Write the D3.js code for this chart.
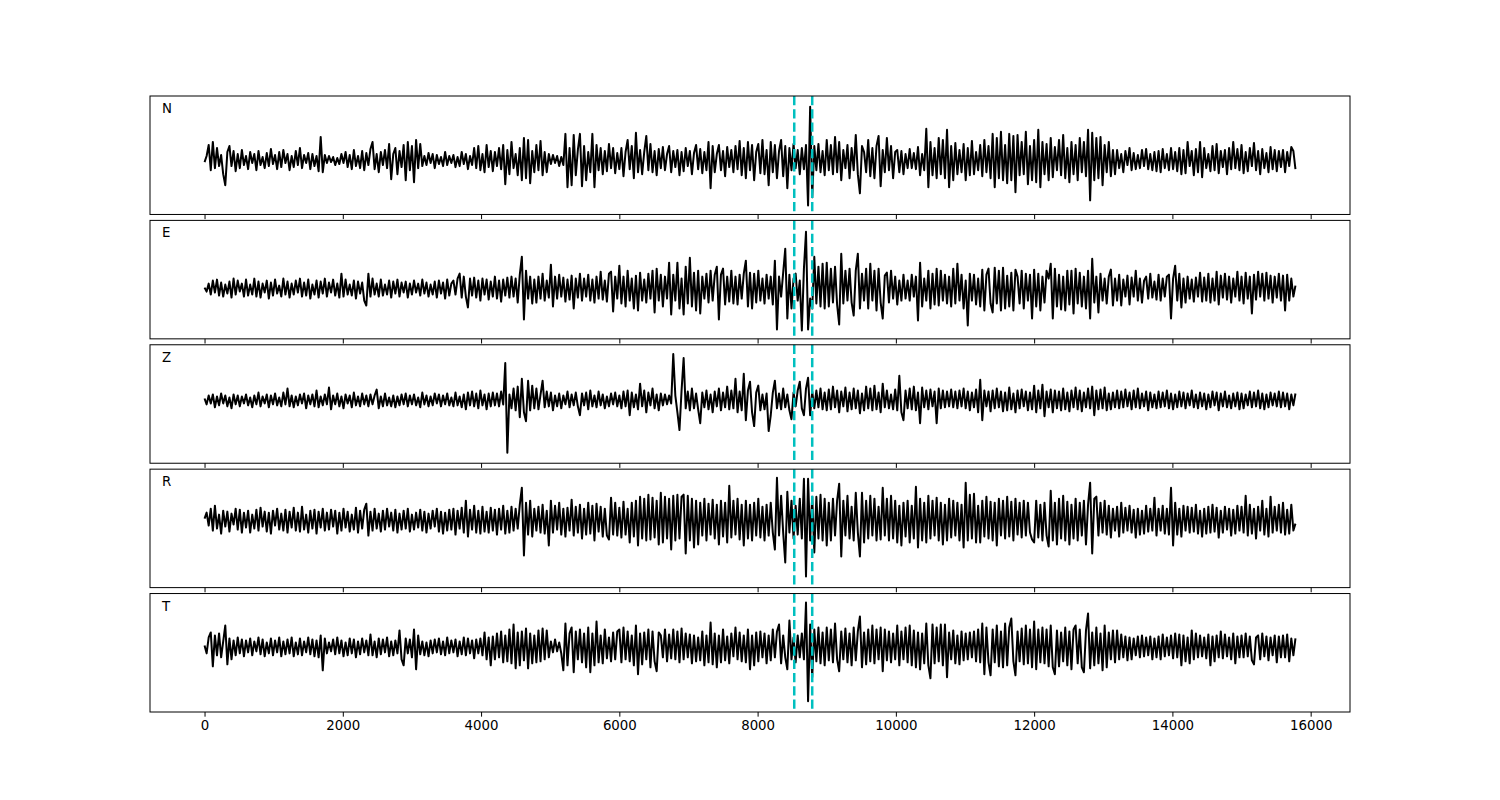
<!DOCTYPE html>
<html>
<head>
<meta charset="utf-8">
<script src="https://cdn.jsdelivr.net/npm/d3@7"></script>
<style>
  html, body { margin: 0; padding: 0; background: #ffffff; }
  svg { display: block; font-family: "DejaVu Sans", sans-serif; }
</style>
</head>
<body>
<svg id="chart" width="1500" height="800"></svg>
<script>
// ---- data (one sample every 30 time units, starting at 0) ----
const sampleInterval = 30;
const componentNames = ["N", "E", "Z", "R", "T"];
const pickTimes = [8530, 8790];
const xTickValues = [0, 2000, 4000, 6000, 8000, 10000, 12000, 14000, 16000];

const traceN = [
-2,4,15,-10,18,-8,12,-6,5,-14,-25,8,14,-6,9,-11,6,-8,10,-5,
4,-9,8,-3,6,-10,9,-5,3,-8,7,-6,11,-4,5,-9,8,-7,10,-3,
6,-10,4,-7,9,-5,12,-8,5,-3,7,-9,6,-6,4,-11,23,-12,5,-3,
4,-2,3,-5,2,-4,6,-3,8,-7,5,-9,10,-6,4,-8,9,-10,7,-5,
11,18,-9,6,-12,8,-5,10,-8,16,-19,6,12,-14,9,-7,15,-20,18,-10,
14,-22,20,-8,16,-6,4,-5,7,-3,6,-8,5,-4,3,-6,8,-5,4,-3,
5,-7,3,-6,8,-4,6,-9,4,-5,12,-8,14,-10,6,-12,15,-7,9,-11,
8,-6,12,-9,15,-24,10,-14,18,-8,6,-15,12,-20,22,-18,20,-23,9,-12,
15,-10,19,-15,8,-12,6,-4,5,-3,4,-6,3,-5,26,-27,12,-25,25,-15,
10,26,-26,14,-20,8,-12,26,-27,15,-10,12,-14,9,-11,16,-8,12,-13,7,
-9,12,-16,8,20,-9,14,-18,27,-12,10,-14,8,24,-10,16,-12,9,-15,11,
-8,13,-10,6,14,-12,9,-7,10,-15,8,-11,12,-6,9,-14,7,15,-9,11,
-13,8,-10,18,-28,14,-12,6,15,-10,9,-16,13,-7,10,-12,14,-9,19,-15,
12,-18,18,-10,15,-20,8,16,-13,20,-14,10,-25,18,-12,15,-18,9,20,-16,
14,-28,12,-10,16,-8,10,-14,12,-9,15,-45,53,-37,14,-10,16,-12,9,-15,
20,-10,15,-14,23,-12,18,-20,10,-8,15,-18,12,-10,25,-14,-33,14,8,-12,
20,-16,12,-18,14,24,-26,10,-12,22,-10,14,-18,8,10,-12,9,-14,6,-8,
11,-8,7,-9,13,-15,6,-10,31,-27,18,-15,12,-18,22,-14,20,-18,30,-27,
14,-20,17,-14,10,-12,16,-20,12,-15,19,-14,8,-10,15,-16,20,-12,14,-18,
26,-27,22,-18,28,-20,15,-23,26,-20,24,-32,25,-15,18,-14,28,-24,14,-20,
20,-22,30,-27,18,-14,16,-20,22,-17,13,-10,20,-15,25,-18,12,-22,18,-14,
15,-20,22,-12,18,-16,30,-40,27,-20,22,-18,23,-25,15,-12,18,-16,10,-14,
10,-8,6,-12,9,-5,12,-10,7,-9,5,-8,10,-6,11,-9,6,-10,8,-11,
9,-12,11,-8,6,-10,12,-9,8,-11,12,-14,10,-13,18,-6,9,-15,11,-12,
18,-17,12,-8,6,-11,14,-10,16,-13,9,-7,10,-14,12,-9,18,-8,11,-10,
15,-13,8,-11,12,-6,17,-10,9,-14,11,-8,7,-12,13,-9,10,-11,9,-7,
10,-12,8,-6,13,9,-9
];

const traceE = [
1,-3,5,-6,8,-4,9,-7,6,-8,4,-5,7,-9,10,-6,8,-3,5,-8,
9,-7,4,-6,10,-8,7,-9,5,-4,8,-10,6,-7,9,-5,3,-8,10,-6,
7,-9,5,-6,8,-4,10,-8,6,-7,9,-10,4,-6,8,-9,7,-5,10,-8,
6,-4,9,-7,5,-9,15,-8,9,-6,4,-7,8,-10,7,-5,6,-12,-17,15,
-8,10,-6,5,-8,9,-7,4,-6,8,-9,7,-5,9,-8,6,-4,7,-9,5,
-6,8,-4,5,-7,9,-5,6,-8,4,-6,7,-9,8,-5,6,-10,9,-7,5,
8,-6,10,15,-9,12,-8,-19,10,-7,11,-9,8,-12,10,-6,9,-11,7,-8,
12,-10,8,-13,9,-7,11,-9,12,-8,10,-14,14,32,-31,18,-10,12,-15,9,
-14,12,-10,15,-12,8,-9,24,-18,12,-10,14,-8,11,-13,9,-11,13,-20,10,
-9,15,-12,10,-8,14,-12,9,-14,12,-10,17,-11,8,-13,15,17,-23,12,-10,
23,-15,12,-18,18,-12,10,-20,13,-22,16,-12,9,-14,15,-10,18,-24,20,-12,
14,-18,12,-10,26,-26,14,-12,26,-20,10,-26,22,-15,31,-18,16,-22,18,-25,
12,-10,15,-14,18,-12,14,22,-31,14,20,-16,12,-13,18,-15,12,-16,14,-10,
15,28,-18,16,-20,15,-14,18,-12,10,-15,14,-10,12,-16,28,-41,12,-8,16,
40,-30,14,-20,10,15,-12,8,-42,20,57,-41,-10,-20,32,-15,22,-18,25,-20,
26,-18,20,-14,22,-16,-36,35,-15,18,-12,20,-14,-27,18,35,-20,15,-12,20,
-20,25,-12,18,-22,20,-14,-30,13,16,-14,18,-10,12,-16,8,-12,14,-10,8,
-12,14,-8,12,-32,26,-18,10,-12,18,-20,15,-16,20,-17,18,-12,14,-15,12,
-18,20,-15,25,-12,14,-20,8,-37,15,-12,14,-16,10,-18,19,-22,14,20,-15,
-24,21,-15,18,-22,21,-20,13,-18,16,-22,19,12,-15,18,-20,15,-12,14,-30,
19,-18,15,-22,12,-14,18,10,25,-30,20,-18,14,-21,12,-22,18,-16,18,-25,
20,-15,16,-18,12,-20,18,-30,30,-14,12,-24,15,-12,10,-15,12,19,-17,10,
-12,14,-17,9,-8,13,-16,11,-8,18,-12,10,-14,8,12,-10,15,-9,7,-11,
14,-12,10,-8,12,14,-30,10,23,-12,15,-19,10,-14,12,-10,9,-13,11,-8,
16,-13,11,-12,15,-14,10,-12,17,-16,13,-9,15,-11,12,-14,10,-8,17,-12,
12,-15,16,-10,12,-25,14,-11,17,-8,15,-12,16,-10,13,-14,12,-9,15,-12,
13,-22,14,-12,10,-8,3
];

const traceZ = [
2,-4,5,-3,6,-7,4,-5,7,-3,5,-6,3,-8,6,-4,5,-6,4,-3,
6,-5,3,-7,5,-4,8,-6,4,-3,6,-7,5,-4,7,-5,3,-6,8,-4,
12,-6,5,-7,4,-5,6,-3,7,-8,5,-4,6,-6,10,-7,4,-5,6,-4,
13,-9,5,-4,7,-6,4,-8,6,-3,5,-7,8,-5,4,-6,7,-4,5,-6,
6,-4,5,11,-8,4,-6,7,-5,3,-6,5,-7,4,-5,6,-4,7,-6,5,
-4,6,-5,3,-7,8,-4,5,-6,4,-5,7,-3,6,-6,5,-4,7,-5,3,
-6,8,-5,4,-7,6,-9,8,-5,9,-6,7,-8,10,-5,6,-9,7,-6,8,
-5,7,-6,9,-4,38,-53,6,-8,12,-10,14,-17,22,-12,-21,20,-10,15,-8,
12,-9,6,20,-7,9,-6,8,-10,5,-6,7,-8,5,-4,9,-7,6,-5,8,
-6,-15,7,-5,8,-9,10,-6,5,-7,9,-5,6,-8,4,-6,7,-4,8,-6,
5,-8,9,-6,10,-15,8,-7,6,-9,17,-6,10,-12,8,-5,12,-8,6,-10,
7,-5,6,-4,5,-3,47,5,-12,-30,10,43,-8,9,-10,12,-8,7,-9,-23,
8,-7,10,-9,6,-12,9,-6,12,-10,8,-7,14,-9,10,-8,22,-12,9,-10,
27,-20,10,19,-12,-26,8,15,-10,6,-9,7,-31,-15,8,20,-8,7,-9,12,
-7,6,-10,-19,8,-6,10,19,-8,-15,12,23,-15,9,-8,10,-7,12,-9,8,
-10,11,-9,14,-7,10,-12,9,-6,13,-11,8,-9,12,-8,10,-13,7,-10,14,
-8,12,-10,15,-9,8,-12,17,-7,10,-8,6,-9,11,-10,25,-12,-20,10,-8,
12,-9,14,-10,8,-23,13,-7,10,-9,11,-6,9,-23,12,-8,10,-7,9,-6,
11,-7,9,-8,10,-6,12,-8,9,-10,8,-7,11,-12,21,-20,10,-6,9,-11,
10,-8,12,-7,9,-11,8,-10,13,-9,7,-12,10,-8,11,-6,9,-10,8,-9,
15,-12,10,-8,16,-16,9,-7,11,-12,10,-8,9,-10,12,-9,8,-11,10,-7,
13,-9,10,-11,8,-7,12,-8,14,-15,10,-9,11,-8,13,-10,7,-9,8,-7,
10,-8,9,-7,11,-6,8,-9,10,-7,12,-8,7,-6,9,-10,8,-7,6,-8,
9,-7,8,-6,10,-8,7,-9,6,-7,9,-6,8,-8,7,-5,10,-7,6,-8,
8,-6,7,-9,6,-7,9,-5,8,-10,7,-6,9,-7,5,-8,7,-6,8,-9,
7,-8,6,-5,9,-7,8,-6,10,-8,7,-9,6,-7,8,-5,7,-6,9,-7,
8,-6,7,-9,6,-5,7
];

const traceR = [
2,8,-5,12,-10,15,-8,6,-13,10,-6,9,-11,7,-4,12,-9,11,-12,8,
-7,10,-12,6,-8,11,-10,13,-6,9,-11,8,-13,10,-5,12,-9,7,-10,11,
-12,9,-7,13,-10,8,-11,14,-9,6,-12,10,-8,11,-13,9,-7,12,-10,8,
-9,11,-6,10,-13,8,-10,12,-7,9,-11,6,-9,13,-12,10,-8,11,17,-15,
9,-10,12,-8,7,-11,10,-9,12,-6,8,-10,11,-12,7,-9,10,-8,12,-11,
6,-9,8,-7,11,-10,9,-12,7,-8,10,-6,12,-11,9,-13,8,-10,11,-9,
12,-14,10,-8,13,-12,20,-16,11,-9,15,-12,10,-13,14,-11,9,-12,13,-10,
11,-14,12,-9,15,-13,10,-12,14,-10,12,-8,16,33,-35,18,-14,20,-16,12,
-10,14,-12,16,-13,10,-25,20,-12,15,-9,18,-14,12,-16,13,-10,21,-15,14,
-12,16,-18,12,-14,18,-13,15,-20,17,-11,14,-16,12,-15,-19,23,-14,18,-15,
13,-17,19,-14,12,-22,18,-16,20,-25,24,-18,22,-20,26,-19,23,-17,20,-24,
28,-22,24,-18,22,-29,25,-20,26,-18,24,26,-33,25,-20,22,-27,20,-24,18,
-15,22,-20,17,-14,21,-18,16,-24,20,-16,18,-22,35,-17,20,-14,22,-19,16,
-25,20,-18,16,-20,18,-15,22,-17,14,-20,16,-15,18,-12,-29,43,-15,25,-12,
-42,29,-12,20,-18,15,-14,22,-18,42,-56,42,-20,24,-32,24,-18,26,-20,22,
-25,18,-20,22,-15,20,37,-36,20,-15,25,-18,14,-20,28,-12,-36,28,-22,20,
-18,25,-15,22,-20,14,-19,33,-15,22,-20,25,-18,20,-22,15,-25,18,-16,20,
-22,15,-18,34,-27,22,-20,18,-22,25,-18,20,-15,23,-20,18,-24,16,-20,22,
-17,20,-15,18,-20,16,-27,38,-20,26,-18,27,-22,15,-22,20,-16,24,-18,19,
-20,18,-25,22,-15,20,-18,24,-16,19,-20,22,-14,18,-17,20,-15,18,-12,-19,
-22,20,-17,16,-20,18,-15,-26,30,-20,18,-24,22,-18,25,-20,19,-24,16,-18,
22,-20,18,-15,20,-24,16,38,-33,22,24,-15,18,-12,20,-14,15,-17,12,-10,
14,-16,18,-12,13,-10,15,-12,11,-17,12,-14,10,-13,15,-11,12,-10,23,-15,
12,-10,15,-13,12,-14,33,-25,18,-14,12,-16,15,-10,14,-12,13,-11,16,-13,
10,-16,12,-13,14,-12,16,-11,13,-17,10,-12,14,-9,12,-15,11,-13,15,-10,
14,-12,25,-15,16,-13,12,-18,14,-10,20,-14,12,-16,24,-12,14,-10,16,-12,
18,-14,11,-13,16,-10,-3
];

const traceT = [
2,-6,10,15,-19,12,-8,14,-10,6,22,-17,9,-12,7,-8,10,-6,8,-9,
7,-5,9,-8,6,-4,10,-7,8,-9,5,-6,9,-8,7,-5,10,-9,6,-7,
8,-6,10,-9,5,-7,9,-8,6,-5,10,-7,8,-9,7,-10,12,-23,9,-6,
5,-4,8,-7,10,-6,7,-9,5,-8,9,-6,8,-10,6,-7,9,-5,7,-8,
13,-8,6,-10,9,-7,8,-5,10,-9,6,-8,7,-6,17,-12,-18,9,-6,8,
-10,18,-22,12,-7,6,-8,5,-9,7,-6,8,-5,9,-7,6,-8,10,-6,7,
-5,8,-9,6,-7,10,-8,9,-6,7,-11,8,-6,9,-8,15,-12,10,-18,11,
-12,14,-10,16,-15,12,-14,18,-16,23,-21,15,-18,16,-13,19,-21,14,-16,12,
-15,17,-14,19,-12,17,-10,6,-5,8,-4,5,-6,-23,24,-18,14,20,-25,16,
-12,18,-15,14,-20,20,-25,14,-18,26,-15,12,-16,18,-11,10,-14,15,-12,16,
18,-15,20,-12,16,-14,12,-18,22,-27,14,-17,15,-12,18,-20,16,-14,-24,15,
12,-10,18,-14,13,-11,18,-12,16,-15,19,-12,14,-10,13,-16,12,-14,10,-13,
16,-18,12,-15,25,-17,14,-20,12,-15,18,-13,11,-16,14,-9,20,-12,15,-14,
12,-15,18,-22,12,-18,15,-14,16,-10,14,-16,12,-13,18,-10,16,23,-16,12,
-10,-22,27,-12,10,-15,12,-10,14,-12,45,-54,23,-30,18,-14,20,-16,15,-18,
20,-13,18,-15,24,-12,-24,16,-12,19,-15,14,-18,20,-13,16,31,-20,15,-17,
18,-14,22,-16,18,-12,20,-24,18,-13,16,-15,14,-12,22,-18,16,-12,20,-15,
22,-18,17,-20,15,-22,14,-16,24,-18,-31,23,-16,20,-14,23,-18,23,-30,15,
-12,17,-16,12,-17,16,-13,14,-12,15,-10,16,-14,18,-15,24,-27,20,-15,-28,
18,-15,22,-19,16,-20,24,-18,20,29,-14,-28,16,-14,19,-17,22,-16,18,-20,
26,-22,18,-15,20,-16,18,-19,22,-20,-27,17,-19,15,-14,20,-18,16,-22,18,
22,-16,18,-20,-25,17,34,-21,15,-18,20,-16,14,-23,22,-20,15,-12,17,-15,
17,-12,13,-10,11,-13,10,-12,9,-8,11,-10,12,-9,10,-8,11,-12,9,-10,
11,-12,13,-9,10,-8,12,-11,14,-10,13,-18,12,-14,10,-16,17,-12,14,-10,
12,-9,10,-11,13,-18,11,-14,12,-10,16,-11,13,-9,10,-12,14,-16,11,-10,
12,-10,14,-9,11,-13,-17,10,12,-12,14,-9,11,-13,10,-8,12,-15,11,-10,
12,-10,13,-14,9,-8,9
];

const traces = [traceN, traceE, traceZ, traceR, traceT];

// ---- layout ----
const svg = d3.select("#chart");
const figW = 1500, figH = 800;
const plotLeft = 150, plotRight = 1350, plotTop = 96, plotBottom = 712;
const hspace = 0.05;
const nP = traces.length;
const panelH = (plotBottom - plotTop) / (nP + (nP - 1) * hspace);
const gap = panelH * hspace;

svg.append("rect").attr("width", figW).attr("height", figH).attr("fill", "#ffffff");

const tMax = (d3.max(traces, t => t.length) - 1) * sampleInterval;
const pad = tMax * 0.05;
const x = d3.scaleLinear().domain([-pad, tMax + pad]).range([plotLeft, plotRight]);

const tickLen = 4.67;

traces.forEach((trace, p) => {
  const y0 = plotTop + p * (panelH + gap);
  const y1 = y0 + panelH;
  const lo = d3.min(trace), hi = d3.max(trace);
  const y = d3.scaleLinear().domain([1.2 * lo, 1.2 * hi]).range([y1, y0]);

  const g = svg.append("g");
  const clipId = "clip" + p;
  g.append("clipPath").attr("id", clipId)
    .append("rect").attr("x", plotLeft).attr("y", y0).attr("width", plotRight - plotLeft).attr("height", panelH);

  const line = d3.line()
    .x((d, i) => x(i * sampleInterval))
    .y(d => y(d));

  g.append("path")
    .datum(trace)
    .attr("clip-path", `url(#${clipId})`)
    .attr("fill", "none")
    .attr("stroke", "#000000")
    .attr("stroke-width", 2)
    .attr("stroke-linejoin", "round")
    .attr("stroke-linecap", "butt")
    .attr("d", line);

  g.selectAll("line.pick")
    .data(pickTimes)
    .enter().append("line")
    .attr("class", "pick")
    .attr("x1", d => x(d)).attr("x2", d => x(d))
    .attr("y1", y0).attr("y2", y1)
    .attr("stroke", "#00bfbf")
    .attr("stroke-width", 2.5)
    .attr("stroke-dasharray", "9.25,4");

  // frame
  g.append("rect")
    .attr("x", plotLeft).attr("y", y0)
    .attr("width", plotRight - plotLeft).attr("height", panelH)
    .attr("fill", "none").attr("stroke", "#000000").attr("stroke-width", 1);

  // label
  g.append("text")
    .attr("x", plotLeft + 12)
    .attr("y", y0 + 17)
    .attr("font-family", "DejaVu Sans, sans-serif")
    .attr("font-size", "13.33px")
    .attr("fill", "#000000")
    .text(componentNames[p]);

  // x axis ticks (labels only on the bottom panel)
  const axis = d3.axisBottom(x).tickValues(xTickValues).tickSize(tickLen).tickPadding(3.5)
    .tickFormat(p < nP - 1 ? "" : d3.format("d"));
  const ag = svg.append("g").attr("transform", `translate(0,${y1})`).call(axis);
  ag.select(".domain").remove();
  ag.selectAll(".tick line").attr("stroke", "#000000").attr("stroke-width", 1);
  ag.selectAll(".tick text")
    .attr("font-family", "DejaVu Sans, sans-serif")
    .attr("font-size", "13.33px")
    .attr("fill", "#000000");
});
</script>
</body>
</html>
